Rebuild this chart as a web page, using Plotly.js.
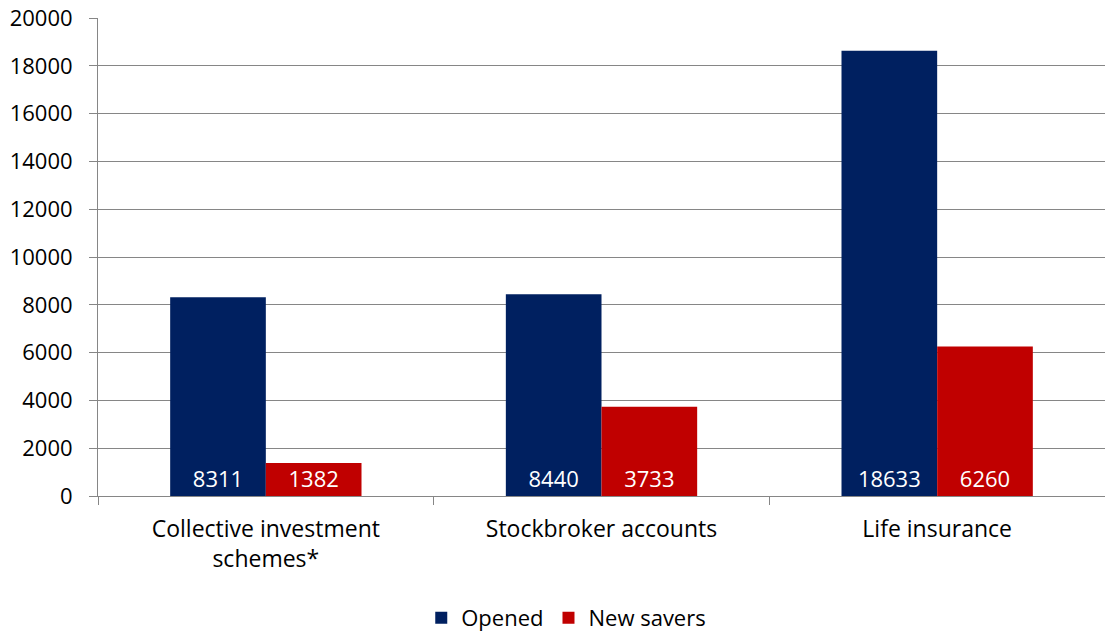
<!DOCTYPE html>
<html>
<head>
<meta charset="utf-8">
<script src="https://cdn.plot.ly/plotly-3.0.1.min.js"></script>
<style>html,body{margin:0;padding:0;background:#fff;}#chart{width:1105px;height:635px;}</style>
</head>
<body>
<div id="chart"></div>
<script>
const categories = ["Collective investment<br>schemes*", "Stockbroker accounts", "Life insurance"];
const opened = [8311, 8440, 18633];
const newSavers = [1382, 3733, 6260];
const seriesNames = ["Opened", "New savers"];
const yTicks = [0, 2000, 4000, 6000, 8000, 10000, 12000, 14000, 16000, 18000, 20000];

const FONT = "Open Sans, Noto Sans, sans-serif";
const FS = 22;

const traces = [
  {type: "bar", name: seriesNames[0], x: categories, y: opened, marker: {color: "#002060"},
   text: opened.map(String), textposition: "inside", insidetextanchor: "start",
   textfont: {color: "#ffffff", size: FS, family: FONT}, textangle: 0, hoverinfo: "y"},
  {type: "bar", name: seriesNames[1], x: categories, y: newSavers, marker: {color: "#C00000"},
   text: newSavers.map(String), textposition: "inside", insidetextanchor: "start",
   textfont: {color: "#ffffff", size: FS, family: FONT}, textangle: 0, hoverinfo: "y"}
];

const layout = {
  width: 1105, height: 635,
  margin: {l: 98, r: 0, t: 18, b: 139},
  paper_bgcolor: "#ffffff", plot_bgcolor: "#ffffff",
  font: {family: FONT, color: "#000000", size: FS},
  barmode: "group", bargap: 0.43, bargroupgap: 0,
  uniformtext: {mode: "show", minsize: FS},
  xaxis: {
    automargin: false,
    showline: true, linecolor: "#868686", linewidth: 1,
    ticks: "outside", tickson: "boundaries", ticklen: 8, tickcolor: "#868686",
    tickfont: {size: 23, family: FONT, color: "#000"}, showgrid: false,
    ticklabelstandoff: 12
  },
  yaxis: {
    automargin: false,
    range: [0, 20000], tickvals: yTicks, ticktext: yTicks.map(String),
    showline: true, linecolor: "#868686", linewidth: 1,
    ticks: "outside", ticklen: 8, tickcolor: "#868686",
    showgrid: true, gridcolor: "#868686", gridwidth: 1, zeroline: false,
    tickfont: {size: FS, family: FONT, color: "#000"},
    ticklabelstandoff: 12
  },
  showlegend: true,
  legend: {orientation: "h", x: 0.465, xanchor: "center", yref: "container", y: 0.06, yanchor: "top",
    itemwidth: 30, font: {size: FS, family: FONT, color: "#000"}, traceorder: "normal"}
};

Plotly.newPlot("chart", traces, layout, {displayModeBar: false, staticPlot: true});
</script>
</body>
</html>
